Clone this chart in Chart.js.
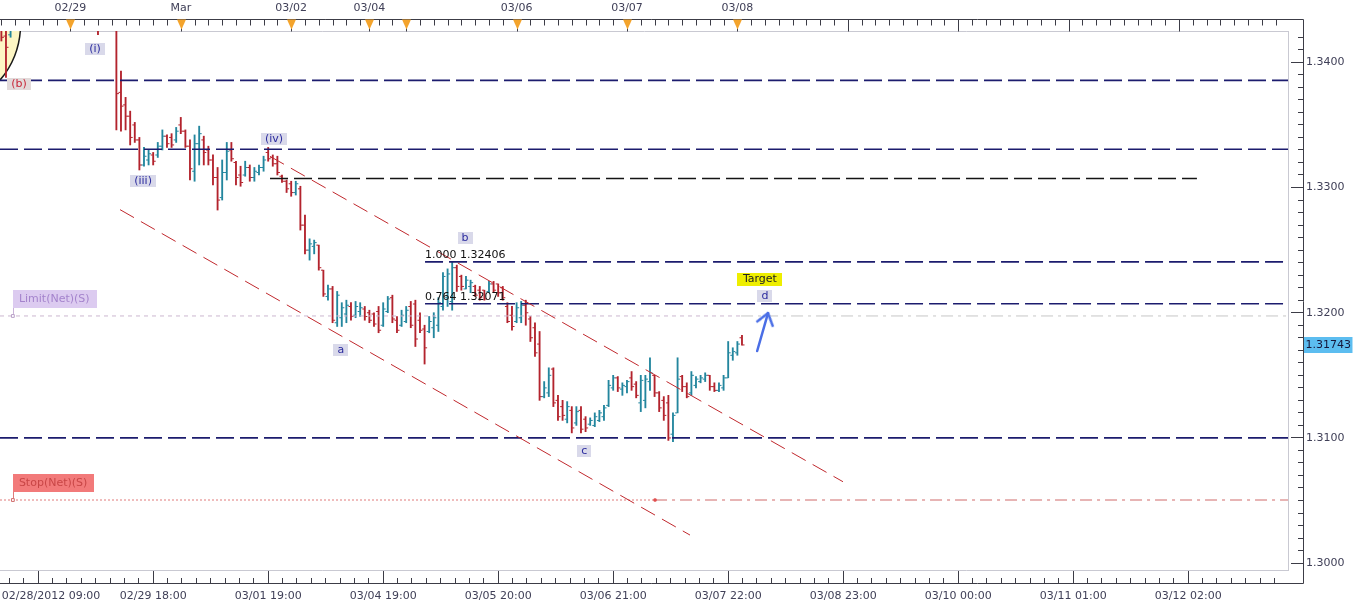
<!DOCTYPE html>
<html>
<head>
<meta charset="utf-8">
<title>EUR/USD 1H</title>
<script src="https://cdn.jsdelivr.net/npm/chart.js@4.4.1/dist/chart.umd.min.js"></script>
<style>
html,body{margin:0;padding:0;background:#fff;overflow:hidden}
canvas{display:block}
</style>
</head>
<body>
<canvas id="chart" width="1360" height="608"></canvas>
<script>
// ---------------- DATA (hourly bars, index 0 = 02/28 09:00) ----------------
const opens = [
1.3430,1.3421,1.3422,1.3433,1.3445,1.3441,1.3447,1.3455,1.3452,1.3448,
1.3460,1.3468,1.3463,1.3458,1.3466,1.3475,1.3481,1.3469,1.3455,1.3444,
1.3437,1.3441,1.3430,1.3448,1.3455,1.3442,1.3376,1.3366,1.3357,1.3350,
1.3338,1.3318,1.3322,1.3326,1.3326,1.3333,1.3341,1.3340,1.3338,1.3350,
1.3345,1.3333,1.3313,1.3335,1.3338,1.3330,1.3322,1.3308,1.3292,1.3312,
1.3330,1.3320,1.3310,1.3310,1.3316,1.3308,1.3312,1.3316,1.3328,1.3324,
1.3319,1.3309,1.3305,1.3303,1.3296,1.3299,1.3270,1.3250,1.3253,1.3254,
1.3234,1.3213,1.3219,1.3192,1.3196,1.3199,1.3205,1.3198,1.3201,1.3203,
1.3200,1.3199,1.3201,1.3190,1.3201,1.3212,1.3194,1.3190,1.3193,1.3205,
1.3207,1.3194,1.3187,1.3185,1.3188,1.3190,1.3205,1.3212,1.3209,1.3236,
1.3229,1.3219,1.3221,1.3221,1.3218,1.3218,1.3217,1.3223,1.3223,1.3220,
1.3205,1.3198,1.3193,1.3196,1.3206,1.3195,1.3188,1.3175,1.3133,1.3136,
1.3155,1.3130,1.3125,1.3115,1.3122,1.3112,1.3122,1.3115,1.3111,1.3110,
1.3114,1.3117,1.3126,1.3140,1.3148,1.3139,1.3141,1.3148,1.3143,1.3128,
1.3130,1.3145,1.3150,1.3136,1.3130,1.3128,1.3103,1.3120,1.3149,1.3141,
1.3136,1.3142,1.3145,1.3147,1.3150,1.3141,1.3138,1.3140,1.3148,1.3166,
1.3168,1.3180];
const highs = [
1.3438,1.3432,1.3436,1.3448,1.3452,1.3450,1.3458,1.3462,1.3459,1.3463,
1.3471,1.3475,1.3470,1.3468,1.3479,1.3486,1.3484,1.3474,1.3462,1.3450,
1.3445,1.3447,1.3452,1.3460,1.3462,1.3450,1.3393,1.3372,1.3361,1.3352,
1.3340,1.3332,1.3330,1.3328,1.3336,1.3346,1.3342,1.3343,1.3348,1.3356,
1.3346,1.3338,1.3342,1.3349,1.3341,1.3333,1.3326,1.3316,1.3322,1.3336,
1.3336,1.3321,1.3317,1.3321,1.3318,1.3316,1.3318,1.3325,1.3332,1.3326,
1.3325,1.3310,1.3306,1.3305,1.3305,1.3301,1.3278,1.3259,1.3258,1.3254,
1.3234,1.3222,1.3221,1.3217,1.3208,1.3210,1.3208,1.3209,1.3208,1.3205,
1.3202,1.3200,1.3205,1.3208,1.3213,1.3214,1.3197,1.3202,1.3205,1.3209,
1.3210,1.3200,1.3190,1.3197,1.3200,1.3212,1.3232,1.3235,1.3241,1.3238,
1.3230,1.3229,1.3226,1.3222,1.3221,1.3218,1.3225,1.3225,1.3223,1.3221,
1.3208,1.3205,1.3208,1.3209,1.3210,1.3197,1.3192,1.3185,1.3145,1.3156,
1.3156,1.3134,1.3130,1.3129,1.3125,1.3125,1.3125,1.3117,1.3116,1.3120,
1.3122,1.3126,1.3146,1.3150,1.3149,1.3144,1.3146,1.3153,1.3145,1.3150,
1.3150,1.3164,1.3150,1.3137,1.3133,1.3134,1.3120,1.3164,1.3150,1.3144,
1.3153,1.3149,1.3150,1.3152,1.3150,1.3144,1.3144,1.3150,1.3177,1.3172,
1.3177,1.3182];
const lows = [
1.3417,1.3388,1.3420,1.3430,1.3438,1.3436,1.3443,1.3449,1.3444,1.3446,
1.3455,1.3460,1.3454,1.3452,1.3462,1.3470,1.3465,1.3451,1.3440,1.3432,
1.3428,1.3422,1.3427,1.3441,1.3438,1.3346,1.3345,1.3346,1.3334,1.3336,
1.3314,1.3317,1.3318,1.3318,1.3324,1.3330,1.3332,1.3332,1.3336,1.3343,
1.3332,1.3306,1.3305,1.3318,1.3318,1.3318,1.3302,1.3282,1.3290,1.3306,
1.3321,1.3302,1.3301,1.3309,1.3305,1.3305,1.3310,1.3313,1.3321,1.3317,
1.3310,1.3304,1.3296,1.3293,1.3294,1.3266,1.3247,1.3242,1.3247,1.3234,
1.3213,1.3210,1.3192,1.3189,1.3189,1.3192,1.3194,1.3196,1.3197,1.3194,
1.3192,1.3189,1.3184,1.3189,1.3200,1.3192,1.3184,1.3189,1.3192,1.3188,
1.3173,1.3184,1.3159,1.3184,1.3180,1.3185,1.3202,1.3205,1.3202,1.3217,
1.3218,1.3219,1.3216,1.3213,1.3210,1.3210,1.3216,1.3216,1.3213,1.3210,
1.3192,1.3186,1.3192,1.3192,1.3190,1.3177,1.3165,1.3130,1.3132,1.3133,
1.3125,1.3114,1.3114,1.3112,1.3104,1.3110,1.3104,1.3105,1.3110,1.3109,
1.3113,1.3114,1.3125,1.3138,1.3137,1.3134,1.3136,1.3138,1.3132,1.3121,
1.3124,1.3138,1.3133,1.3121,1.3114,1.3098,1.3097,1.3120,1.3137,1.3132,
1.3134,1.3140,1.3144,1.3145,1.3138,1.3137,1.3137,1.3138,1.3148,1.3162,
1.3166,1.3174];
const closes = [
1.3420,1.3412,1.3433,1.3445,1.3441,1.3447,1.3455,1.3452,1.3448,1.3460,
1.3468,1.3463,1.3458,1.3466,1.3475,1.3481,1.3469,1.3455,1.3444,1.3437,
1.3441,1.3430,1.3448,1.3455,1.3442,1.3375,1.3365,1.3357,1.3340,1.3338,
1.3318,1.3325,1.3327,1.3321,1.3333,1.3341,1.3335,1.3334,1.3345,1.3345,
1.3333,1.3315,1.3335,1.3343,1.3328,1.3322,1.3308,1.3290,1.3312,1.3329,
1.3323,1.3308,1.3304,1.3316,1.3308,1.3313,1.3316,1.3322,1.3323,1.3319,
1.3312,1.3305,1.3299,1.3296,1.3303,1.3270,1.3250,1.3255,1.3256,1.3236,
1.3215,1.3219,1.3194,1.3214,1.3204,1.3206,1.3197,1.3205,1.3204,1.3197,
1.3194,1.3191,1.3186,1.3203,1.3211,1.3195,1.3186,1.3198,1.3202,1.3190,
1.3179,1.3186,1.3172,1.3193,1.3196,1.3208,1.3229,1.3231,1.3236,1.3221,
1.3221,1.3226,1.3224,1.3214,1.3212,1.3211,1.3223,1.3218,1.3216,1.3212,
1.3193,1.3189,1.3204,1.3206,1.3200,1.3180,1.3168,1.3133,1.3140,1.3150,
1.3128,1.3117,1.3118,1.3125,1.3108,1.3121,1.3107,1.3108,1.3114,1.3117,
1.3120,1.3124,1.3142,1.3148,1.3140,1.3142,1.3145,1.3141,1.3134,1.3146,
1.3147,1.3152,1.3136,1.3124,1.3118,1.3100,1.3118,1.3147,1.3141,1.3133,
1.3150,1.3147,1.3148,1.3150,1.3141,1.3138,1.3142,1.3148,1.3168,1.3169,
1.3175,1.31743];

// horizontal levels
const navyLevels = [1.33856, 1.33305, 1.31000];
const blackLevel = 1.33072, blackFromIdx = 58.4, blackToIdx = 259.9;
const fibLevels = [1.32406, 1.32071], fibRatios = ['1.000', '0.764'], fibFromIdx = 92.1;
const limitPrice = 1.31974, limitSplitIdx = 160.8;
const stopPrice = 1.30504, stopSplitIdx = 142.1;
const orderAnchorIdx = 2.5;
// channel lines
const upperChannelIdx = [58.4, 182.96], upperChannelPrice = [1.33249, 1.30650];
const lowerChannelIdx = [25.8, 149.7], lowerChannelPrice = [1.32823, 1.30224];
// arrow
const arrowIdx = [164.3, 166.66], arrowPrice = [1.31694, 1.31997];
// circle object (top-left)
const circleIdx = -14.1, circlePrice = 1.34298;
// wave labels
const waveLabels = ['(i)', '(b)', '(iii)', '(iv)', 'a', 'b', 'c', 'd'];
const waveIdx = [20.35, 3.83, 30.8, 59.27, 73.8, 100.8, 126.7, 166.0];
const wavePrice = [1.34106, 1.33827, 1.33052, 1.33387, 1.31703, 1.32597, 1.30895, 1.32133];
const targetText = 'Target', targetIdx = 164.9, targetPrice = 1.32269;
// axes
const dayIdx = [15, 39, 63, 80, 88, 112, 136, 160, 184, 208, 232, 256];
const dayLabels = ['02/29', 'Mar', '03/02', '03/04', '', '03/06', '03/07', '03/08', '', '', '', ''];
const timeIdx = [8, 33, 58, 83, 108, 133, 158, 183, 208, 233, 258];
const timeLabels = ['', '02/29 18:00', '03/01 19:00', '03/04 19:00', '03/05 20:00', '03/06 21:00',
                    '03/07 22:00', '03/08 23:00', '03/10 00:00', '03/11 01:00', '03/12 02:00'];
const startLabel = '02/28/2012 09:00', startLabelIdx = 10.8;
const priceMajor = [1.30, 1.31, 1.32, 1.33, 1.34];

// ---------------- STYLE ----------------
const FONT = '"DejaVu Sans", Verdana, sans-serif';
const RED = '#b3232d', TEAL = '#23869e';
const NAVY = '#1c1c6e', AXIS = '#3c3c46', TXT = '#404058';
const X_MIN = -0.3, X_MAX = 279.7, Y_MIN = 1.29945, Y_MAX = 1.34250;
const lastIdx = closes.length - 1;
const isUp = i => closes[i] >= opens[i];

function tickImg(side, color) {
  const c = document.createElement('canvas');
  c.width = 7; c.height = 3;
  const g = c.getContext('2d');
  g.fillStyle = color;
  g.fillRect(side === 'open' ? 1 : 4, 1, 2, 1);
  return c;
}
const imgs = {
  openUp: tickImg('open', TEAL), openDn: tickImg('open', RED),
  closeUp: tickImg('close', TEAL), closeDn: tickImg('close', RED)
};
function arrowHead(color) {
  const c = document.createElement('canvas');
  c.width = 30; c.height = 30;
  const g = c.getContext('2d');
  g.strokeStyle = color; g.lineWidth = 2.5; g.lineCap = 'round'; g.lineJoin = 'round';
  g.beginPath(); g.moveTo(15 - 8, 15 + 11); g.lineTo(15, 15); g.lineTo(15 + 8, 15 + 11); g.stroke();
  return c;
}
const ARROW = '#4a6ee6';
const arrowImg = arrowHead(ARROW);

function seg(xs, ys, color, width, dash, order) {
  return {
    type: 'line',
    data: [{x: xs[0], y: ys[0]}, {x: xs[1], y: ys[1]}],
    borderColor: color, borderWidth: width, borderDash: dash,
    pointRadius: 0, fill: false, tension: 0, clip: 0, order
  };
}

const datasets = [];
// yellow circle object
datasets.push({
  type: 'bubble',
  data: [{x: circleIdx, y: circlePrice, r: 84}],
  backgroundColor: '#fdf6c4', borderColor: '#1a1a1a', borderWidth: 1.5,
  clip: 0, order: 30
});
// OHLC high-low bars
datasets.push({
  type: 'bar',
  data: opens.map((o, i) => ({x: i, y: [lows[i], highs[i]]})),
  backgroundColor: ctx => isUp(ctx.dataIndex) ? TEAL : RED,
  borderWidth: 0, barThickness: 1.2, grouped: false, clip: 0, order: 20
});
// open ticks
datasets.push({
  type: 'line', showLine: false,
  data: opens.map((o, i) => ({x: i, y: o})),
  pointStyle: ctx => isUp(ctx.dataIndex) ? imgs.openUp : imgs.openDn,
  pointRadius: 3, clip: 0, order: 19
});
// close ticks
datasets.push({
  type: 'line', showLine: false,
  data: closes.map((c, i) => ({x: i, y: c})),
  pointStyle: ctx => isUp(ctx.dataIndex) ? imgs.closeUp : imgs.closeDn,
  pointRadius: 3, clip: 0, order: 19
});
// navy full-width levels
navyLevels.forEach(p => datasets.push(seg([X_MIN, X_MAX], [p, p], NAVY, 1.6, [18, 6], 5)));
// black level
datasets.push(seg([blackFromIdx, blackToIdx], [blackLevel, blackLevel], '#141414', 1.5, [18, 6], 5));
// fib levels
fibLevels.forEach(p => datasets.push(seg([fibFromIdx, X_MAX], [p, p], NAVY, 1.6, [18, 6], 5)));
// limit line
datasets.push(seg([X_MIN, limitSplitIdx], [limitPrice, limitPrice], '#cbb6cf', 1, [4, 4], 6));
datasets.push(seg([limitSplitIdx, X_MAX], [limitPrice, limitPrice], '#c6c6c6', 1, [12, 5, 3, 5], 6));
// stop line
datasets.push(seg([X_MIN, stopSplitIdx], [stopPrice, stopPrice], '#e07a7a', 1, [2, 2], 6));
datasets.push(seg([stopSplitIdx, X_MAX], [stopPrice, stopPrice], '#cf6a6a', 1, [12, 5, 3, 5], 6));
// order markers
datasets.push({
  type: 'line', showLine: false,
  data: [{x: orderAnchorIdx, y: limitPrice}, {x: orderAnchorIdx, y: stopPrice}, {x: stopSplitIdx, y: stopPrice}],
  pointStyle: 'rect', pointRadius: [2, 2, 1.6],
  pointBackgroundColor: ['#ffffff', '#ffffff', '#e05050'],
  pointBorderColor: ['#b9a0c8', '#d06a6a', '#e05050'], pointBorderWidth: 1,
  clip: 0, order: 4
});
// channel lines
datasets.push(seg(upperChannelIdx, upperChannelPrice, '#c0282d', 1, [16, 8], 3));
datasets.push(seg(lowerChannelIdx, lowerChannelPrice, '#c0282d', 1, [16, 8], 3));
// arrow
datasets.push({
  type: 'line',
  data: [{x: arrowIdx[0], y: arrowPrice[0]}, {x: arrowIdx[1], y: arrowPrice[1]}],
  borderColor: ARROW, borderWidth: 2.5, borderCapStyle: 'round',
  pointStyle: arrowImg, pointRadius: [0, 6], pointRotation: 16,
  fill: false, tension: 0, clip: 0, order: 1
});

// ---------------- TICKS ----------------
const topTicks = [];
for (let k = 0; k <= 78; k += 3) topTicks.push(k);
topTicks.push(80);
for (let k = 82; k <= 279; k += 3) topTicks.push(k);
const topTickObjs = topTicks.map(k => {
  const di = dayIdx.indexOf(k);
  return {value: k, isMajor: di >= 0, lbl: di >= 0 ? dayLabels[di] : ''};
});

const bottomTickObjs = [];
const step = 25 / 8;
for (let j = 2; j >= 1; j--) bottomTickObjs.push({value: timeIdx[0] - j * step, lbl: ''});
timeIdx.forEach((k, i) => {
  bottomTickObjs.push({value: k, isMajor: true, lbl: timeLabels[i]});
  for (let j = 1; j < 8; j++) {
    const v = k + j * step;
    if (v < X_MAX) bottomTickObjs.push({value: v, lbl: ''});
  }
});
bottomTickObjs.push({value: startLabelIdx, lbl: startLabel, hidden: true});
bottomTickObjs.sort((a, b) => a.value - b.value);

const yTickObjs = [];
for (let m = 1300; m <= 1342; m++) {
  const v = m / 1000;
  const major = priceMajor.some(p => Math.abs(p - v) < 1e-9);
  yTickObjs.push({value: v, isMajor: major, lbl: major ? v.toFixed(4) : ''});
}

// ---------------- PLUGINS ----------------
function roundBox(ctx, x, y, w, h, fill) {
  ctx.fillStyle = fill;
  ctx.fillRect(Math.round(x), Math.round(y), Math.round(w), Math.round(h));
}
const annotations = {
  id: 'annotations',
  afterDatasetsDraw(chart) {
    const {ctx, scales: {x, y}} = chart;
    ctx.save();
    ctx.font = '11px ' + FONT;
    ctx.textBaseline = 'middle';
    ctx.textAlign = 'center';
    // wave labels
    waveLabels.forEach((t, i) => {
      const px = x.getPixelForValue(waveIdx[i]);
      const py = y.getPixelForValue(wavePrice[i]);
      const w = ctx.measureText(t).width + 8, h = 12;
      const isB = t === '(b)';
      roundBox(ctx, px - w / 2, py - h / 2, w, h, isB ? '#e2dada' : '#d9d9ea');
      ctx.fillStyle = isB ? '#c8283a' : '#2b2b9e';
      ctx.fillText(t, px, py + 0.5);
    });
    // target
    {
      const px = x.getPixelForValue(targetIdx), py = y.getPixelForValue(targetPrice);
      const w = ctx.measureText(targetText).width + 11, h = 13;
      roundBox(ctx, px - w / 2, py - h / 2, w, h, '#eeee00');
      ctx.fillStyle = '#222';
      ctx.fillText(targetText, px, py + 0.5);
    }
    // fib labels
    ctx.textAlign = 'left';
    ctx.fillStyle = '#111';
    fibLevels.forEach((p, i) => {
      const px = x.getPixelForValue(fibFromIdx), py = y.getPixelForValue(p);
      ctx.fillText(fibRatios[i] + ' ' + p.toFixed(5), px, py - 7);
    });
    // order boxes
    const orderBox = (text, price, bg, fg, stem) => {
      const px = x.getPixelForValue(orderAnchorIdx), py = y.getPixelForValue(price);
      const w = ctx.measureText(text).width + 13, h = 18;
      ctx.strokeStyle = stem; ctx.lineWidth = 1;
      ctx.beginPath(); ctx.moveTo(Math.round(px) + 0.5, py - 8); ctx.lineTo(Math.round(px) + 0.5, py - 2); ctx.stroke();
      roundBox(ctx, px, py - 8 - h, w, h, bg);
      ctx.fillStyle = fg; ctx.textAlign = 'left';
      ctx.fillText(text, px + 6, py - 8 - h / 2 + 0.5);
    };
    orderBox('Limit(Net)(S)', limitPrice, '#dccbf0', '#a483cc', '#c9b3d8');
    orderBox('Stop(Net)(S)', stopPrice, '#f27a7a', '#c84646', '#e07a7a');
    ctx.restore();
  },
  afterDraw(chart) {
    const {ctx, chartArea: a, scales: {x, y}} = chart;
    ctx.save();
    ctx.strokeStyle = AXIS; ctx.lineWidth = 1;
    const topY = a.top - 12 + 0.5, botY = a.bottom + 13 + 0.5, rightX = a.right + 15 + 0.5;
    ctx.beginPath();
    ctx.moveTo(0, topY); ctx.lineTo(rightX, topY); ctx.lineTo(rightX, botY); ctx.lineTo(0, botY);
    ctx.stroke();
    // top axis tick marks (hanging from the top axis line)
    ctx.beginPath();
    topTickObjs.forEach(t => {
      const px = Math.round(x.getPixelForValue(t.value)) + 0.5;
      ctx.moveTo(px, topY);
      ctx.lineTo(px, topY + (t.isMajor ? 12 : 6));
    });
    ctx.stroke();
    // day triangles (only where bars exist)
    ctx.fillStyle = '#f4a42c';
    dayIdx.forEach(k => {
      if (k > lastIdx) return;
      const px = Math.round(x.getPixelForValue(k)) + 0.5;
      ctx.beginPath();
      ctx.moveTo(px - 4.5, topY); ctx.lineTo(px + 4.5, topY); ctx.lineTo(px, topY + 10);
      ctx.closePath(); ctx.fill();
    });
    // last price tag
    const last = closes[lastIdx];
    const py = y.getPixelForValue(last);
    ctx.font = '11px ' + FONT;
    const txt = last.toFixed(5);
    const w = ctx.measureText(txt).width + 3;
    ctx.fillStyle = '#5cbdf0';
    ctx.fillRect(rightX + 0.5, Math.round(py - 8), w, 16);
    ctx.fillStyle = '#16163a';
    ctx.textBaseline = 'middle'; ctx.textAlign = 'left';
    ctx.fillText(txt, rightX + 2, py + 0.5);
    ctx.restore();
  }
};

const noHPad = s => { s.paddingLeft = 0; s.paddingRight = 0; };
const tickFont = {family: FONT, size: 11};
new Chart(document.getElementById('chart'), {
  type: 'line',
  data: {datasets},
  options: {
    responsive: false, animation: false, devicePixelRatio: 1, events: [],
    layout: {padding: 0, autoPadding: false},
    plugins: {legend: {display: false}, tooltip: {enabled: false}},
    scales: {
      x: {
        type: 'linear', position: 'bottom', min: X_MIN, max: X_MAX, bounds: 'data', offset: false,
        afterBuildTicks: s => { s.ticks = bottomTickObjs.map(t => ({...t})); },
        afterFit: s => { s.height = 38; noHPad(s); },
        grid: {
          drawOnChartArea: false, offset: false, tickLength: 13, lineWidth: 1,
          tickColor: c => (c.tick && c.tick.hidden) ? 'rgba(0,0,0,0)' : AXIS,
          tickBorderDash: c => (c.tick && c.tick.isMajor) ? [] : [0, 7, 6, 100]
        },
        border: {display: true, color: '#c9c9d2'},
        ticks: {
          autoSkip: false, maxRotation: 0, minRotation: 0, padding: 7,
          font: tickFont, color: TXT,
          callback: (v, i, ticks) => ticks[i].lbl || ''
        }
      },
      x2: {
        type: 'linear', position: 'top', min: X_MIN, max: X_MAX, bounds: 'data', offset: false,
        afterBuildTicks: s => { s.ticks = topTickObjs.map(t => ({...t})); },
        afterFit: s => { s.height = 31; noHPad(s); },
        grid: {drawOnChartArea: false, offset: false, drawTicks: false},
        border: {display: true, color: '#c9c9d2'},
        ticks: {
          autoSkip: false, maxRotation: 0, minRotation: 0, padding: 16,
          font: tickFont, color: TXT,
          callback: (v, i, ticks) => ticks[i].lbl || ''
        }
      },
      y: {
        type: 'linear', position: 'right', min: Y_MIN, max: Y_MAX, bounds: 'data',
        afterBuildTicks: s => { s.ticks = yTickObjs.map(t => ({...t})); },
        afterFit: s => { s.width = 72; s.paddingTop = 0; s.paddingBottom = 0; },
        grid: {
          drawOnChartArea: false, tickLength: 15, lineWidth: 1, tickColor: AXIS,
          tickBorderDash: c => (c.tick && c.tick.isMajor) ? [0, 2, 13, 100] : [0, 9, 6, 100]
        },
        border: {display: true, color: '#c9c9d2'},
        ticks: {
          autoSkip: false, padding: 3, font: tickFont, color: TXT,
          callback: (v, i, ticks) => ticks[i].lbl || ''
        }
      }
    }
  },
  plugins: [annotations]
});
</script>
</body>
</html>
